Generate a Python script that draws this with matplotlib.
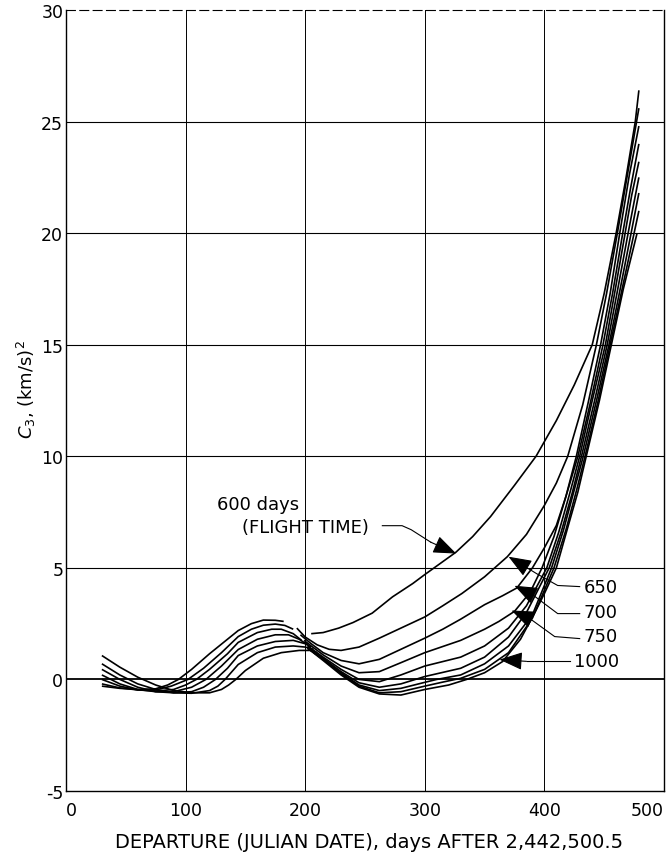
import matplotlib
matplotlib.use("Agg")
import matplotlib.pyplot as plt

# ---------------- data ----------------
x_ticks = [0, 100, 200, 300, 400, 500]
y_ticks = [-5, 0, 5, 10, 15, 20, 25, 30]

# left-hand family (early departures, hump near day 170)
left_days_0 = [30, 45, 60, 75, 85, 94, 105, 120, 135, 144, 155, 165, 175, 182]
left_c3_0 = [-0.3, -0.4, -0.45, -0.42, -0.25, 0.0, 0.45, 1.15, 1.8, 2.19, 2.5, 2.66, 2.65, 2.6]
left_days_1 = [30, 45, 60, 75, 88, 102, 115, 130, 144, 155, 165, 175, 183, 190]
left_c3_1 = [-0.2, -0.38, -0.47, -0.47, -0.3, 0.0, 0.5, 1.2, 1.92, 2.25, 2.43, 2.48, 2.42, 2.25]
left_days_2 = [30, 45, 60, 75, 90, 100, 109, 120, 135, 144, 160, 172, 180, 190, 197]
left_c3_2 = [0.0, -0.3, -0.47, -0.52, -0.45, -0.25, 0.0, 0.45, 1.15, 1.66, 2.1, 2.25, 2.25, 2.05, 1.75]
left_days_3 = [30, 45, 60, 75, 90, 105, 117, 130, 144, 160, 175, 186, 195, 202]
left_c3_3 = [0.2, -0.2, -0.45, -0.55, -0.55, -0.35, 0.0, 0.6, 1.34, 1.8, 2.0, 2.0, 1.8, 1.55]
left_days_4 = [30, 45, 60, 75, 90, 105, 115, 125, 135, 144, 160, 175, 190, 200, 205]
left_c3_4 = [0.45, 0.0, -0.35, -0.55, -0.6, -0.55, -0.35, 0.0, 0.5, 1.07, 1.5, 1.7, 1.75, 1.6, 1.45]
left_days_5 = [30, 45, 60, 75, 90, 105, 120, 127, 133, 144, 160, 175, 190, 200, 207]
left_c3_5 = [0.7, 0.2, -0.2, -0.45, -0.6, -0.62, -0.5, -0.3, 0.0, 0.67, 1.2, 1.45, 1.5, 1.45, 1.35]
left_days_6 = [30, 45, 60, 75, 90, 105, 120, 130, 136, 142, 150, 165, 180, 195, 205, 210]
left_c3_6 = [1.07, 0.55, 0.1, -0.25, -0.5, -0.6, -0.6, -0.45, -0.25, 0.0, 0.4, 0.95, 1.2, 1.3, 1.3, 1.2]

# right-hand family, one curve per flight time (days)
days_600 = [205, 215, 228, 240, 256, 273, 290, 300, 313, 326, 340, 355, 375, 393, 410, 425, 440, 450, 460, 468, 476, 479]
c3_600 = [2.05, 2.1, 2.3, 2.55, 2.97, 3.7, 4.3, 4.7, 5.2, 5.7, 6.4, 7.3, 8.7, 10.0, 11.6, 13.2, 15.0, 17.3, 20.0, 22.4, 25.0, 26.4]
days_650 = [193, 200, 210, 220, 230, 245, 262, 280, 300, 315, 331, 350, 369, 385, 400, 410, 419.5, 432, 443.5, 452, 461, 470, 479]
c3_650 = [2.3, 1.9, 1.55, 1.35, 1.3, 1.45, 1.85, 2.3, 2.8, 3.3, 3.85, 4.6, 5.5, 6.5, 7.8, 8.8, 10.0, 12.3, 15.0, 17.3, 20.0, 22.8, 25.6]
days_700 = [196, 205, 215, 230, 245, 262, 280, 300, 315, 330, 350, 365, 377, 390, 400, 410, 418, 426.7, 437, 447, 455, 463, 471, 479]
c3_700 = [2.0, 1.6, 1.2, 0.85, 0.7, 0.9, 1.35, 1.85, 2.25, 2.7, 3.35, 3.75, 4.1, 5.0, 5.9, 6.9, 8.2, 10.0, 12.5, 15.0, 17.3, 20.0, 22.6, 24.8]
days_750 = [199, 205, 215, 230, 245, 262, 280, 300, 330, 350, 362, 375, 388, 398, 408, 418, 428, 438, 449, 457, 465.5, 472, 479]
c3_750 = [1.75, 1.5, 1.1, 0.6, 0.3, 0.35, 0.75, 1.2, 1.75, 2.25, 2.6, 3.05, 3.9, 5.0, 6.4, 8.2, 10.0, 12.3, 15.0, 17.3, 20.0, 22.0, 24.0]
days_800 = [202, 215, 230, 245, 262, 280, 300, 330, 350, 370, 385, 402, 412, 421, 429.5, 440, 451, 459, 467.5, 473, 479]
c3_800 = [1.5, 1.0, 0.45, 0.0, -0.1, 0.2, 0.6, 1.0, 1.5, 2.3, 3.3, 5.0, 6.6, 8.3, 10.0, 12.5, 15.0, 17.4, 20.0, 21.7, 23.2]
days_850 = [202, 215, 230, 245, 262, 280, 300, 330, 350, 370, 385, 404, 414, 423, 431, 442, 452.5, 461, 470, 475, 479]
c3_850 = [1.45, 0.95, 0.35, -0.15, -0.35, -0.2, 0.13, 0.5, 1.0, 1.9, 3.0, 5.0, 6.6, 8.3, 10.0, 12.5, 15.0, 17.4, 20.0, 21.4, 22.5]
days_900 = [202, 215, 230, 245, 262, 280, 300, 310, 330, 350, 370, 390, 406, 416, 425, 432.5, 444, 454, 463, 472.5, 479]
c3_900 = [1.4, 0.9, 0.3, -0.25, -0.5, -0.4, -0.13, 0.0, 0.2, 0.7, 1.5, 2.9, 5.0, 6.7, 8.5, 10.0, 12.6, 15.0, 17.4, 20.0, 21.8]
days_950 = [202, 215, 230, 245, 262, 280, 300, 315, 330, 350, 370, 390, 408, 418, 427, 434, 445, 455, 465, 475, 479]
c3_950 = [1.4, 0.9, 0.25, -0.3, -0.6, -0.55, -0.3, -0.12, 0.05, 0.45, 1.2, 2.75, 5.0, 6.7, 8.5, 10.0, 12.5, 15.0, 17.5, 20.0, 21.0]
days_1000 = [202, 215, 230, 245, 262, 280, 300, 320, 335, 350, 365, 380, 393, 400, 410, 420, 428, 435, 446, 456, 466, 477.5]
c3_1000 = [1.4, 0.85, 0.2, -0.35, -0.65, -0.7, -0.45, -0.25, 0.0, 0.3, 0.8, 1.8, 3.1, 3.85, 5.0, 6.9, 8.4, 10.0, 12.5, 15.0, 17.5, 20.0]

left_family = [(left_days_0, left_c3_0), (left_days_1, left_c3_1), (left_days_2, left_c3_2),
               (left_days_3, left_c3_3), (left_days_4, left_c3_4), (left_days_5, left_c3_5),
               (left_days_6, left_c3_6)]
right_family = [(days_600, c3_600), (days_650, c3_650), (days_700, c3_700), (days_750, c3_750),
                (days_800, c3_800), (days_850, c3_850), (days_900, c3_900), (days_950, c3_950),
                (days_1000, c3_1000)]

# ---------------- figure ----------------
plt.rcParams["font.family"] = ["DejaVu Sans"]

W, H = 666, 854
fig = plt.figure(figsize=(W / 100, H / 100), dpi=100)
L, R, T, B = 66, 664, 11, 792
ax = fig.add_axes([L / W, 1 - B / H, (R - L) / W, (B - T) / H])

ax.set_xlim(0, 500)
ax.set_ylim(-5, 30)
ax.set_xticks(x_ticks)
ax.set_yticks(y_ticks)
ax.set_xticklabels([str(v) for v in x_ticks])
ax.set_yticklabels([str(v) for v in y_ticks])
ax.tick_params(length=0, labelsize=12.5, colors="black")
ax.tick_params(axis="x", pad=7)
ax.tick_params(axis="y", pad=2)
xl = ax.get_xticklabels()
xl[0].set_ha("left")
xl[-1].set_ha("right")

for v in x_ticks[1:-1]:
    ax.axvline(v, color="black", lw=0.7, zorder=1)
for v in y_ticks[1:-1]:
    ax.axhline(v, color="black", lw=1.3 if v == 0 else 0.8, zorder=1)

for side in ["left", "bottom", "right"]:
    ax.spines[side].set_linewidth(1.0)
ax.spines["top"].set_linewidth(0.8)
ax.spines["top"].set_linestyle((0, (8, 4)))

for d, c in left_family:
    ax.plot(d, c, color="black", lw=1.2, zorder=3, solid_capstyle="butt")
for d, c in right_family:
    ax.plot(d, c, color="black", lw=1.2, zorder=3, solid_capstyle="butt")

# labels
ax.set_xlabel("DEPARTURE (JULIAN DATE), days AFTER 2,442,500.5", fontsize=14)
ax.xaxis.set_label_coords((369.5 - L) / (R - L), -(843 - B) / (B - T))
ax.xaxis.label.set_va("center")
ax.set_ylabel("$C_3$, (km/s)$^2$", fontsize=13)
ax.yaxis.set_label_coords((26 - L) / (R - L), (B - 390) / (B - T))
ax.yaxis.label.set_va("center")

# annotations
tkw = dict(fontsize=13, color="black", va="center", zorder=5)
ax.text(126, 7.85, "600 days", ha="left", **tkw)
ax.text(147.5, 6.85, "(FLIGHT TIME)", ha="left", **tkw)
ax.text(433, 4.16, "650", ha="left", **tkw)
ax.text(433, 3.0, "700", ha="left", **tkw)
ax.text(433, 1.95, "750", ha="left", **tkw)
ax.text(425, 0.81, "1000", ha="left", **tkw)

def leader(points, tip):
    xs = [p[0] for p in points]
    ys = [p[1] for p in points]
    ax.plot(xs, ys, color="black", lw=0.8, zorder=4)
    ax.annotate("", xy=tip, xytext=points[-1],
                arrowprops=dict(arrowstyle="-|>,head_length=0.9,head_width=0.35",
                                color="black", lw=0.8, mutation_scale=16,
                                shrinkA=0, shrinkB=0), zorder=5)

leader([(264.5, 6.89), (281, 6.89), (288.6, 6.71), (305, 6.15)], (326.3, 5.64))
leader([(429.5, 4.16), (411.1, 4.21), (393.5, 4.74), (388, 4.92)], (370.0, 5.50))
leader([(429.5, 2.95), (411.1, 2.95), (390, 3.8)], (375.0, 4.2))
leader([(429.5, 1.83), (408.6, 1.92), (388, 2.72)], (372.5, 3.09))
leader([(421.5, 0.81), (385.1, 0.81)], (362.4, 0.89))

fig.savefig("out.png", dpi=100)
